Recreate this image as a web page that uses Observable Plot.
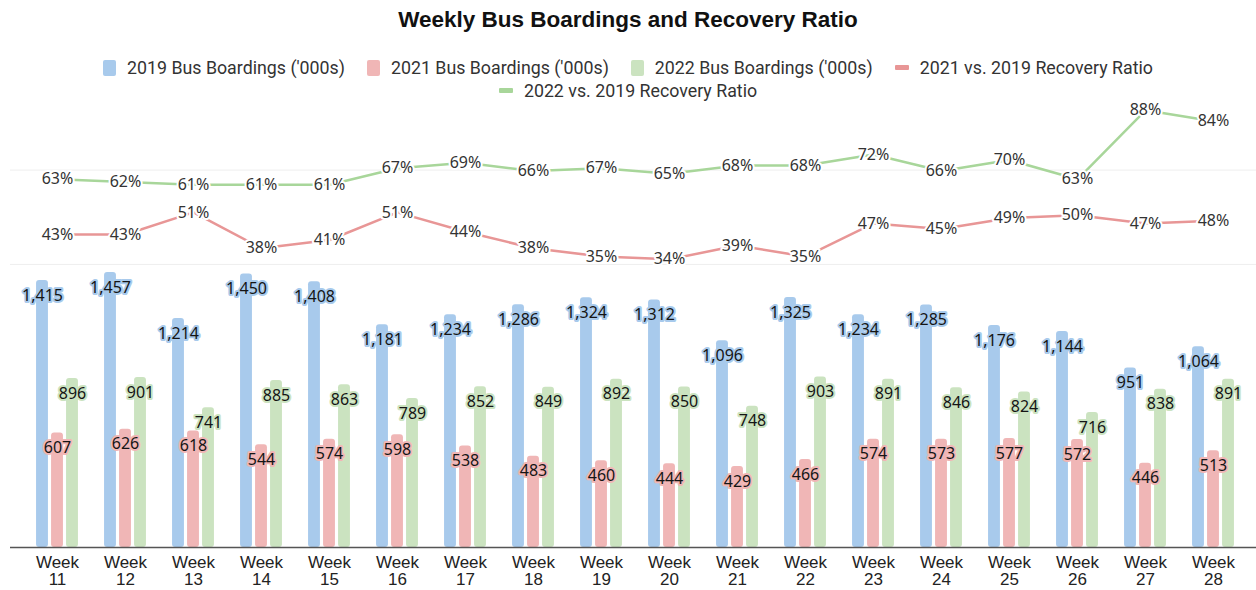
<!DOCTYPE html>
<html>
<head>
<meta charset="utf-8">
<script src="https://cdn.jsdelivr.net/npm/d3@7"></script>
<script src="https://cdn.jsdelivr.net/npm/@observablehq/plot@0.6"></script>
<style>
  html, body { margin: 0; padding: 0; background: #fff; }
  #root { position: relative; width: 1256px; height: 590px; overflow: hidden; }
  #title { position: absolute; top: 0; left: 0; width: 1256px; height: 40px; line-height: 40px; text-align: center;
    font-family: "Liberation Sans", Arial, sans-serif; font-weight: bold; font-size: 22.5px; color: #111; }
  #legend { position: absolute; top: 56px; left: 0; width: 1256px; display: flex; flex-wrap: wrap; justify-content: center;
    column-gap: 22px; row-gap: 0; font-family: Roboto, "Liberation Sans", sans-serif; font-size: 17.8px; color: #333; }
  .item { display: flex; align-items: center; height: 23px; white-space: nowrap; }
  .sw { display: inline-block; margin-right: 11px; }
  .sw.box { width: 13px; height: 16px; border-radius: 2px; }
  .sw.ln { width: 14px; height: 5px; border-radius: 1px; }
  #charts { position: absolute; top: 96px; left: 0; width: 1256px; height: 494px; }
  #charts svg { position: absolute; top: 0; left: 0; }
</style>
</head>
<body>
<div id="root">
  <div id="title">Weekly Bus Boardings and Recovery Ratio</div>
  <div id="legend"></div>
  <div id="charts"></div>
</div>
<script>
// ---- data ----
const weeks = [11, 12, 13, 14, 15, 16, 17, 18, 19, 20, 21, 22, 23, 24, 25, 26, 27, 28];
const boardings2019 = [1415, 1457, 1214, 1450, 1408, 1181, 1234, 1286, 1324, 1312, 1096, 1325, 1234, 1285, 1176, 1144, 951, 1064];
const boardings2021 = [607, 626, 618, 544, 574, 598, 538, 483, 460, 444, 429, 466, 574, 573, 577, 572, 446, 513];
const boardings2022 = [896, 901, 741, 885, 863, 789, 852, 849, 892, 850, 748, 903, 891, 846, 824, 716, 838, 891];
const ratio2021 = [0.43, 0.43, 0.51, 0.38, 0.41, 0.51, 0.44, 0.38, 0.35, 0.34, 0.39, 0.35, 0.47, 0.45, 0.49, 0.50, 0.47, 0.48];
const ratio2022 = [0.63, 0.62, 0.61, 0.61, 0.61, 0.67, 0.69, 0.66, 0.67, 0.65, 0.68, 0.68, 0.72, 0.66, 0.70, 0.63, 0.88, 0.84];
const barSeries = ["2019 Bus Boardings ('000s)", "2021 Bus Boardings ('000s)", "2022 Bus Boardings ('000s)"];
const lineSeries = ["2021 vs. 2019 Recovery Ratio", "2022 vs. 2019 Recovery Ratio"];
const gridValues = [1500, 2000];

// ---- styles ----
const barColors = ["#a8caec", "#f0b6b6", "#cbe3c0"];
const lineColors = ["#e89696", "#a8d69a"];
const W = 1256, H = 494, mL = 22, mR = 8, mB = 43;
const bw = (W - mL - mR) / weeks.length;
const barW = 12, gap = 3;

// legend
const legend = document.getElementById("legend");
barSeries.forEach((s, i) => {
  legend.insertAdjacentHTML("beforeend", `<div class="item"><span class="sw box" style="background:${barColors[i]}"></span>${s}</div>`);
});
lineSeries.forEach((s, i) => {
  legend.insertAdjacentHTML("beforeend", `<div class="item"><span class="sw ln" style="background:${lineColors[i]}"></span>${s}</div>`);
});

// bar tables
const barValues = [boardings2019, boardings2021, boardings2022];
const barRows = barValues.map((vals, si) => weeks.map((w, i) => ({week: w, value: vals[i], series: barSeries[si]})));
const fmt = d3.format(",");

const barMarks = [];
barMarks.push(Plot.ruleY(gridValues, {stroke: "#eeeeee", strokeWidth: 1, insetLeft: -12, insetRight: -8}));
barRows.forEach((rows, si) => {
  const off = (si - 1) * (barW + gap);
  const left = bw / 2 + off - barW / 2;
  const right = bw - left - barW;
  barMarks.push(Plot.barY(rows, {x: "week", y: "value", fill: barColors[si], insetLeft: left, insetRight: right, rx: 3}));
});
barMarks.push(Plot.ruleY([0], {stroke: "#555", strokeWidth: 1.5, insetLeft: -12, insetRight: -8}));
barRows.forEach((rows, si) => {
  const off = (si - 1) * (barW + gap);
  barMarks.push(Plot.text(rows, {
    x: "week", y: "value", text: d => fmt(d.value), dx: off, dy: 15,
    fill: "#151515", stroke: barColors[si], strokeWidth: 4, paintOrder: "stroke",
    fontSize: 16, fontFamily: "Noto Sans, Roboto, sans-serif"
  }));
});
barMarks.push(Plot.text(weeks, {
  x: d => d, frameAnchor: "bottom", lineAnchor: "top", dy: 8, lineHeight: 1,
  text: d => `Week\n${d}`, fill: "#222", fontSize: 17, fontFamily: "Liberation Sans, Arial, sans-serif"
}));

const barPlot = Plot.plot({
  width: W, height: H, marginTop: 0, marginBottom: mB, marginLeft: mL, marginRight: mR,
  x: {type: "band", domain: weeks, padding: 0, axis: null},
  y: {domain: [0, 2390], axis: null},
  style: {background: "transparent", overflow: "visible"},
  marks: barMarks
});

// line tables
const ratioValues = [ratio2021, ratio2022];
const lineRows = ratioValues.map((vals, si) => weeks.map((w, i) => ({week: w, value: vals[i], series: lineSeries[si]})));
const pct = d3.format(".0%");
const yTop = 0.93, pxPerUnit = 276;
const lineRange = yTop * pxPerUnit;
const lineMarks = [];
lineRows.forEach((rows, si) => {
  lineMarks.push(Plot.line(rows, {x: "week", y: "value", stroke: lineColors[si], strokeWidth: 2.5}));
});
lineRows.forEach((rows, si) => {
  lineMarks.push(Plot.text(rows, {
    x: "week", y: "value", text: d => pct(d.value),
    fill: "#333", stroke: "white", strokeWidth: 4, paintOrder: "stroke",
    fontSize: 16, fontFamily: "Noto Sans, Roboto, sans-serif"
  }));
});
const linePlot = Plot.plot({
  width: W, height: H, marginTop: 0, marginBottom: H - lineRange, marginLeft: mL, marginRight: mR,
  x: {type: "point", domain: weeks, padding: 0.5, axis: null},
  y: {domain: [0, yTop], axis: null},
  style: {background: "transparent", overflow: "visible"},
  marks: lineMarks
});

const charts = document.getElementById("charts");
charts.appendChild(barPlot);
charts.appendChild(linePlot);
</script>
</body>
</html>
